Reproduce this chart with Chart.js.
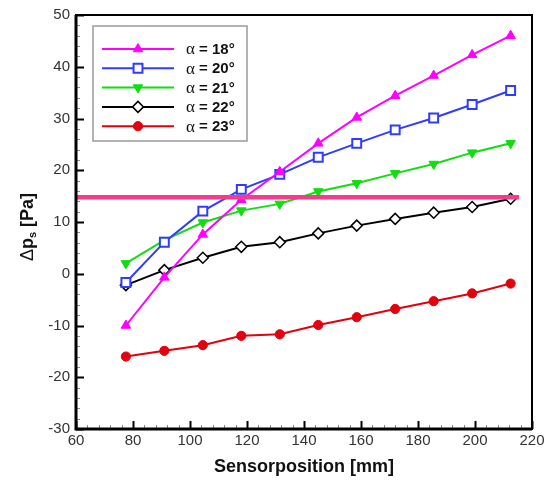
<!DOCTYPE html>
<html>
<head>
<meta charset="utf-8">
<script src="https://cdn.jsdelivr.net/npm/chart.js@4/dist/chart.umd.min.js"></script>
<style>
    html, body { margin: 0; padding: 0; background: #fff; }
    #wrap { width: 553px; height: 480px; }
</style>
</head>
<body>
<div id="wrap"><canvas id="chart" width="553" height="480"></canvas></div>
<script>
// Sensor positions (x) and pressure differences per angle of attack
const sensorPos = [77.5, 91, 104.5, 118, 131.5, 145, 158.5, 172, 185.5, 199, 212.5];
const dp18 = [-10.0, -0.7, 7.6, 14.3, 19.7, 25.2, 30.2, 34.4, 38.3, 42.3, 46.0];
const dp20 = [-1.7, 6.1, 12.1, 16.3, 19.2, 22.5, 25.2, 27.8, 30.1, 32.7, 35.4];
const dp21 = [2.0, 6.5, 9.9, 12.2, 13.5, 15.9, 17.5, 19.4, 21.2, 23.4, 25.2];
const dp22 = [-2.2, 0.7, 3.1, 5.2, 6.1, 7.8, 9.3, 10.6, 11.8, 12.9, 14.5];
const dp23 = [-16.0, -14.9, -13.8, -12.0, -11.7, -9.9, -8.4, -6.8, -5.3, -3.8, -1.9];
const seriesLabels = ['α = 18°', 'α = 20°', 'α = 21°', 'α = 22°', 'α = 23°'];

// Horizontal reference line
const refLineX = [60, 215.5];
const refLineY = [14.8, 14.8];

// Axis limits and tick steps
const xRange = [60, 220];
const yRange = [-30, 50];
const xStep = 20, xMinor = 4;
const yStep = 10, yMinor = 2;

document.addEventListener('DOMContentLoaded', function() {
    const font = "'Liberation Sans', Arial, sans-serif";
    const zip = (xs, ys) => xs.map((x, i) => ({ x: x, y: ys[i] }));

    const styles = [
        { color: '#ff00ff', pointStyle: 'triangle', radius: 5.5, rotation: 0, fill: '#ff00ff', bw: 1 },
        { color: '#2f3cff', pointStyle: 'rect', radius: 6.3, rotation: 0, fill: '#ffffff', bw: 2 },
        { color: '#11dd11', pointStyle: 'triangle', radius: 5.5, rotation: 180, fill: '#11dd11', bw: 1 },
        { color: '#000000', pointStyle: 'rectRot', radius: 5.5, rotation: 0, fill: '#ffffff', bw: 1.5 },
        { color: '#e3000f', pointStyle: 'circle', radius: 4.6, rotation: 0, fill: '#e3000f', bw: 1 }
    ];
    const seriesData = [dp18, dp20, dp21, dp22, dp23];

    const datasets = seriesData.map((vals, i) => ({
        label: seriesLabels[i],
        data: zip(sensorPos, vals),
        borderColor: styles[i].color,
        backgroundColor: styles[i].color,
        borderWidth: 2,
        pointStyle: styles[i].pointStyle,
        pointRadius: styles[i].radius,
        pointRotation: styles[i].rotation,
        pointBackgroundColor: styles[i].fill,
        pointBorderColor: styles[i].color,
        pointBorderWidth: styles[i].bw,
        tension: 0,
        order: 1
    }));

    datasets.push({
        label: 'ref',
        data: zip(refLineX, refLineY),
        borderColor: '#f63a8e',
        borderWidth: 4.5,
        pointRadius: 0,
        order: 0
    });

    // Frame, inward ticks, legend box and y-axis title
    const decorations = {
        id: 'decorations',
        afterDraw(chart) {
            const ctx = chart.ctx;
            const a = chart.chartArea;
            const xs = chart.scales.x;
            const ys = chart.scales.y;
            ctx.save();

            // minor/major ticks pointing into the plot
            for (let v = xRange[0]; v <= xRange[1]; v += xMinor) {
                const px = Math.round(xs.getPixelForValue(v)) + 0.5;
                const major = v % xStep === 0;
                ctx.strokeStyle = major ? '#000' : '#8a8a8a';
                ctx.lineWidth = major ? 2 : 1;
                ctx.beginPath();
                ctx.moveTo(px, a.bottom);
                ctx.lineTo(px, a.bottom - (major ? 8 : 4));
                ctx.stroke();
            }
            for (let v = yRange[0]; v <= yRange[1]; v += yMinor) {
                const py = Math.round(ys.getPixelForValue(v)) + 0.5;
                const major = v % yStep === 0;
                ctx.strokeStyle = major ? '#000' : '#8a8a8a';
                ctx.lineWidth = major ? 2 : 1;
                ctx.beginPath();
                ctx.moveTo(a.left, py);
                ctx.lineTo(a.left + (major ? 8 : 4), py);
                ctx.stroke();
            }

            // plot frame
            ctx.strokeStyle = '#000';
            ctx.lineWidth = 2;
            ctx.strokeRect(a.left, a.top, a.right - a.left, a.bottom - a.top);
            ctx.lineWidth = 3;
            ctx.beginPath();
            ctx.moveTo(a.left, a.top);
            ctx.lineTo(a.left, a.bottom);
            ctx.lineTo(a.right, a.bottom);
            ctx.stroke();

            // legend box
            const bx = a.left + 17, by = a.top + 11, bw = 154, bh = 115;
            ctx.fillStyle = '#fff';
            ctx.fillRect(bx, by, bw, bh);
            ctx.strokeStyle = '#9a9a9a';
            ctx.lineWidth = 1.5;
            ctx.strokeRect(bx, by, bw, bh);
            styles.forEach((s, i) => {
                const ry = by + 23 + i * 19.3;
                ctx.strokeStyle = s.color;
                ctx.lineWidth = 2;
                ctx.beginPath();
                ctx.moveTo(bx + 9, ry);
                ctx.lineTo(bx + 81, ry);
                ctx.stroke();
                ctx.fillStyle = s.fill;
                ctx.strokeStyle = s.color;
                ctx.lineWidth = s.bw;
                Chart.helpers.drawPoint(ctx, {
                    pointStyle: s.pointStyle,
                    radius: s.radius,
                    rotation: s.rotation,
                    borderWidth: s.bw
                }, bx + 45, ry);

                const parts = seriesLabels[i].split(' ');
                ctx.fillStyle = '#111';
                ctx.textBaseline = 'middle';
                ctx.textAlign = 'left';
                ctx.font = "17px 'Liberation Serif', serif";
                ctx.fillText(parts[0], bx + 93, ry + 1);
                const w = ctx.measureText(parts[0]).width;
                ctx.font = 'bold 15px ' + font;
                ctx.fillText(' ' + parts.slice(1).join(' '), bx + 93 + w, ry + 1);
            });

            // y-axis title with subscript
            ctx.translate(28, (a.top + a.bottom) / 2 + 5);
            ctx.rotate(-Math.PI / 2);
            ctx.fillStyle = '#111';
            ctx.textBaseline = 'middle';
            ctx.textAlign = 'left';
            const segs = [
                { t: 'Δ', f: "18px " + font, dy: 0 },
                { t: 'p', f: 'bold 18px ' + font, dy: 0 },
                { t: 's', f: 'bold 11px ' + font, dy: 5 },
                { t: ' [Pa]', f: 'bold 18px ' + font, dy: 0 }
            ];
            let total = 0;
            segs.forEach(sg => { ctx.font = sg.f; sg.w = ctx.measureText(sg.t).width; total += sg.w; });
            let cx = -total / 2;
            segs.forEach(sg => {
                ctx.font = sg.f;
                ctx.fillText(sg.t, cx, sg.dy);
                cx += sg.w;
            });
            ctx.restore();

            // x-axis title
            ctx.save();
            ctx.fillStyle = '#111';
            ctx.font = 'bold 18px ' + font;
            ctx.textAlign = 'center';
            ctx.textBaseline = 'middle';
            ctx.fillText('Sensorposition [mm]', (a.left + a.right) / 2, 467);
            ctx.restore();
        }
    };

    const ctx = document.getElementById('chart').getContext('2d');
    const chart = new Chart(ctx, {
        type: 'line',
        data: { datasets: datasets },
        options: {
            responsive: false,
            animation: false,
            layout: { padding: { left: 0, top: 14, right: 21, bottom: 0 } },
            plugins: {
                legend: { display: false },
                tooltip: { enabled: false }
            },
            scales: {
                x: {
                    type: 'linear',
                    min: xRange[0],
                    max: xRange[1],
                    grid: { display: false, drawTicks: false },
                    border: { display: false },
                    ticks: {
                        stepSize: xStep,
                        padding: 3,
                        color: '#333',
                        font: { family: font, size: 15 }
                    },
                    afterFit: function(scale) { scale.height = 51; }
                },
                y: {
                    type: 'linear',
                    min: yRange[0],
                    max: yRange[1],
                    grid: { display: false, drawTicks: false },
                    border: { display: false },
                    ticks: {
                        stepSize: yStep,
                        padding: 6,
                        color: '#333',
                        font: { family: font, size: 15 }
                    },
                    afterFit: function(scale) { scale.width = 76; }
                }
            }
        },
        plugins: [decorations]
    });
});
</script>
</body>
</html>
